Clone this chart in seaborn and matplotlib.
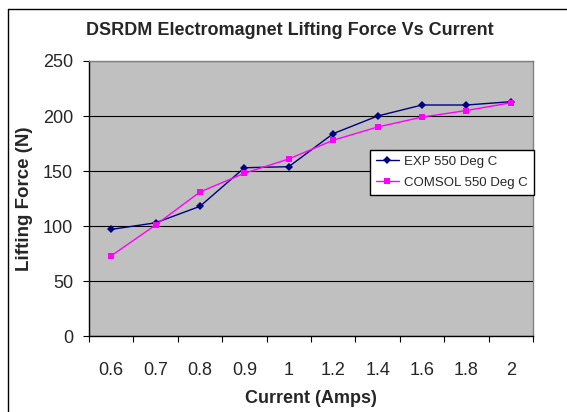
import numpy as np
import pandas as pd
import matplotlib
matplotlib.use("Agg")
import matplotlib.pyplot as plt
import seaborn as sns
from matplotlib.lines import Line2D
from matplotlib.ticker import FixedLocator, NullFormatter

# datos
currents = ["0.6", "0.7", "0.8", "0.9", "1", "1.2", "1.4", "1.6", "1.8", "2"]
exp_force = [97, 103, 118, 153, 154, 184, 200, 210, 210, 213]
comsol_force = [73, 101, 131, 148, 161, 178, 190, 199, 205, 212]
series_names = ["EXP 550 Deg C", "COMSOL 550 Deg C"]

sns.set_style("white")
plt.rcParams['font.family'] = ['Liberation Sans', 'DejaVu Sans']

pos = np.arange(len(currents))
df = pd.DataFrame({
    "pos": np.concatenate([pos, pos]),
    "force": exp_force + comsol_force,
    "serie": [series_names[0]] * len(pos) + [series_names[1]] * len(pos),
})

fig = plt.figure(figsize=(5.67, 4.12), dpi=100)
ax = fig.add_axes([0.157, 0.184, 0.783, 0.668])
ax.set_facecolor("#C0C0C0")

sns.lineplot(data=df, x="pos", y="force", hue="serie", style="serie",
             palette={series_names[0]: "#000080", series_names[1]: "#FF00FF"},
             markers={series_names[0]: "D", series_names[1]: "s"},
             dashes=False, markersize=4, markeredgewidth=0, linewidth=1,
             sort=False, ax=ax, zorder=3)

ax.set_xlim(-0.5, len(currents) - 0.5)
ax.set_ylim(0, 250)
ax.set_yticks(np.arange(0, 251, 50))
ax.yaxis.grid(True, color="black", linewidth=0.8)
ax.set_axisbelow(True)

# eje categorico estilo Excel: marcas en los bordes, etiquetas al centro
ax.xaxis.set_major_locator(FixedLocator(np.arange(-0.5, len(currents), 1.0)))
ax.xaxis.set_major_formatter(NullFormatter())
ax.xaxis.set_minor_locator(FixedLocator(pos))
ax.set_xticklabels(currents, minor=True)
ax.tick_params(axis="x", which="major", direction="out", length=4, width=0.8, color="black", bottom=True)
ax.tick_params(axis="x", which="minor", length=0, pad=18.5, labelsize=13)
ax.tick_params(axis="y", direction="out", length=4.5, width=0.8, color="black", left=True, labelsize=13, pad=7)

for side in ["top", "right"]:
    ax.spines[side].set_color("#808080")
    ax.spines[side].set_linewidth(1)
for side in ["left", "bottom"]:
    ax.spines[side].set_color("black")
    ax.spines[side].set_linewidth(1)

ax.set_xlabel("Current (Amps)", fontsize=13, fontweight="bold", labelpad=8)
ax.set_ylabel("Lifting Force (N)", fontsize=13.5, fontweight="bold", labelpad=7)
# el titulo va centrado en el area del grafico, no en el area de trazado
fig.text(0.511, 0.925, "DSRDM Electromagnet Lifting Force Vs Current", fontsize=13,
         fontweight="bold", ha="center", va="center")

leg = ax.legend(loc="upper left", bbox_to_anchor=(0.632, 0.677), frameon=True,
                fancybox=False, edgecolor="black", framealpha=1, fontsize=9.5,
                handlelength=1.8, handletextpad=0.35, borderpad=0.45,
                labelspacing=0.65, borderaxespad=0)
leg.get_frame().set_linewidth(1)

# marco exterior del grafico (solo se ven el borde izquierdo y el superior)
fig.add_artist(Line2D([0.0141, 0.0141], [0.0, 0.978], transform=fig.transFigure,
                      color="black", linewidth=1))
fig.add_artist(Line2D([0.0141, 1.0], [0.978, 0.978], transform=fig.transFigure,
                      color="black", linewidth=1))

fig.savefig("out.png", dpi=100)
